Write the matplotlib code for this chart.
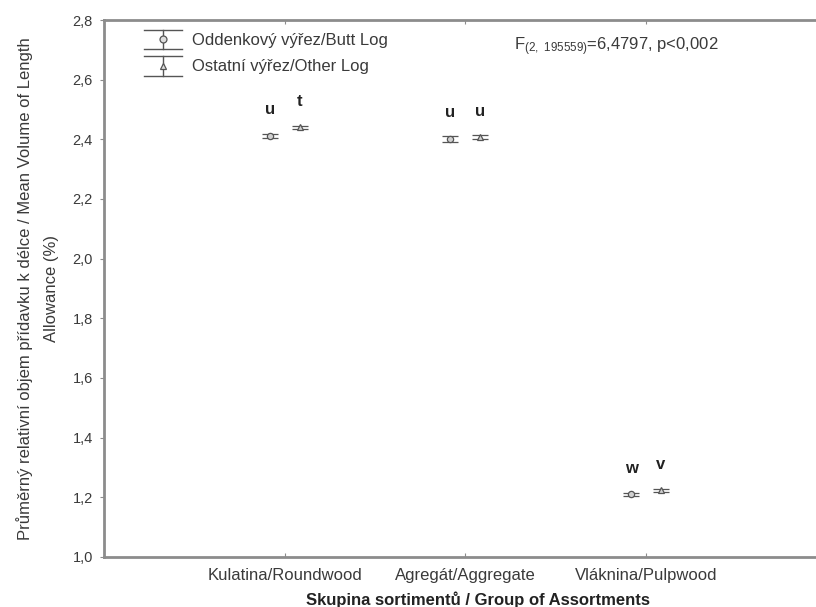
import numpy as np
import matplotlib
matplotlib.use("Agg")
from matplotlib import pyplot as plt
from matplotlib.ticker import FuncFormatter
from matplotlib.legend_handler import HandlerBase
from matplotlib.lines import Line2D

plt.rcParams['font.family'] = ['Liberation Sans', 'DejaVu Sans']
plt.rcParams['mathtext.fontset'] = 'custom'
plt.rcParams['mathtext.rm'] = 'Liberation Sans'
plt.rcParams['mathtext.default'] = 'regular'

GRAY = '#8c8c8c'
TXT = '#3a3a3a'

# data
groups = ['Kulatina/Roundwood', 'Agregát/Aggregate', 'Vláknina/Pulpwood']
butt_mean = [2.412, 2.402, 1.211]
butt_err = [0.006, 0.010, 0.005]
other_mean = [2.440, 2.407, 1.224]
other_err = [0.005, 0.006, 0.005]
butt_letters = ['u', 'u', 'w']
other_letters = ['t', 'u', 'v']
y_ticks = [1.0, 1.2, 1.4, 1.6, 1.8, 2.0, 2.2, 2.4, 2.6, 2.8]


class ErrHandler(HandlerBase):
    """legend icon: vertical bar with wide caps and a small marker"""
    def __init__(self, marker):
        super().__init__()
        self.marker = marker

    def create_artists(self, legend, orig_handle, xdescent, ydescent,
                       width, height, fontsize, trans):
        cx = width / 2 - xdescent
        y0 = -0.4 * height - ydescent
        y1 = 1.3 * height - ydescent
        ym = 0.45 * height - ydescent
        arts = [
            Line2D([0 - xdescent, width - xdescent], [y1, y1], color='#555555', lw=1.0),
            Line2D([0 - xdescent, width - xdescent], [y0, y0], color='#555555', lw=1.0),
            Line2D([cx, cx], [y0, y1], color='#555555', lw=1.0),
            Line2D([cx], [ym], marker=self.marker, ms=5, mfc='#dddddd',
                   mec='#555555', mew=0.9, ls='none'),
        ]
        for a in arts:
            a.set_transform(trans)
        return arts


fig = plt.figure(figsize=(8.16, 6.07), dpi=100)
ax = fig.add_axes([104 / 816, 1 - 557 / 607, 748 / 816, 537 / 607])

x = np.arange(1, len(groups) + 1)
off = 0.083

h1 = ax.errorbar(x - off, butt_mean, yerr=butt_err, fmt='o', ms=4.5, mfc='#d0d0d0',
                 mec='#555555', mew=0.9, ecolor='#555555', elinewidth=0.9,
                 capsize=5.5, capthick=0.9)
h2 = ax.errorbar(x + off, other_mean, yerr=other_err, fmt='^', ms=4.5, mfc='#d0d0d0',
                 mec='#555555', mew=0.9, ecolor='#555555', elinewidth=0.9,
                 capsize=5.5, capthick=0.9)

for i in range(len(groups)):
    ax.text(x[i] - off, butt_mean[i] + 0.062, butt_letters[i], ha='center', va='bottom',
            fontsize=12, fontweight='bold', color='#222222')
    ax.text(x[i] + off, other_mean[i] + 0.062, other_letters[i], ha='center', va='bottom',
            fontsize=12, fontweight='bold', color='#222222')

ax.set_xlim(0, 4.14)
ax.set_ylim(1.0, 2.8)
ax.set_xticks(x)
ax.set_xticklabels(groups)
ax.set_yticks(y_ticks)
ax.yaxis.set_major_formatter(FuncFormatter(lambda v, p: f'{v:.1f}'.replace('.', ',')))

for s in ax.spines.values():
    s.set_color(GRAY)
    s.set_linewidth(2.0)

ax.tick_params(axis='x', direction='in', top=True, length=3, width=0.8, color=GRAY,
               labelsize=12, labelcolor=TXT, pad=8)
ax.tick_params(axis='y', direction='out', length=3, width=0.8, color=GRAY,
               labelsize=10.5, labelcolor=TXT, pad=5)

ax.set_xlabel('Skupina sortimentů / Group of Assortments', fontsize=12,
              fontweight='bold', color='#222222', labelpad=6)
ax.set_ylabel('Průměrný relativní objem přídavku k délce / Mean Volume of Length\nAllowance (%)',
              fontsize=12, color=TXT, labelpad=10, linespacing=1.85)

ax.text(2.27, 2.712, r'F$_{(2,\ 195559)}$=6,4797, p<0,002', fontsize=12, color=TXT,
        ha='left', va='center')

leg = ax.legend([h1, h2], ['Oddenkový výřez/Butt Log', 'Ostatní výřez/Other Log'],
                handler_map={h1: ErrHandler('o'), h2: ErrHandler('^')},
                loc='upper left', bbox_to_anchor=(0.04, 0.995), frameon=False,
                fontsize=12, handlelength=2.3, handletextpad=0.6, labelspacing=0.7,
                borderaxespad=0.2)
for t in leg.get_texts():
    t.set_color(TXT)

fig.savefig('out.png', dpi=100)
